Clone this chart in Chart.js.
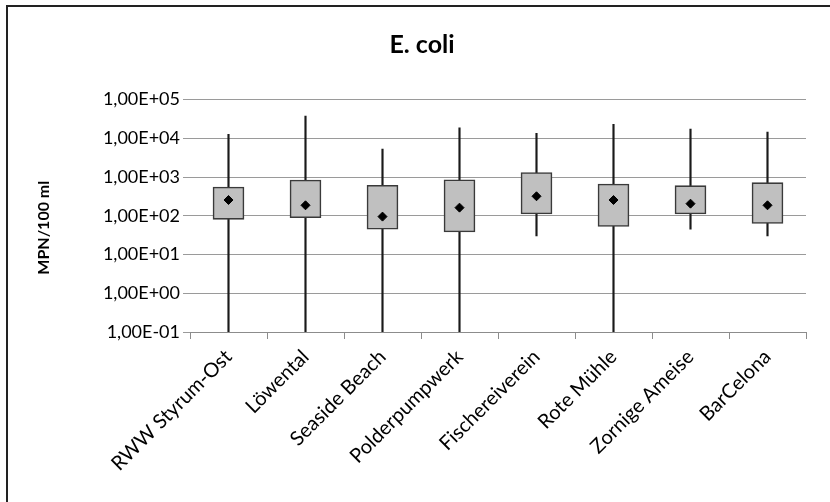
<!DOCTYPE html>
<html>
<head>
<meta charset="utf-8">
<script src="https://cdn.jsdelivr.net/npm/chart.js@4"></script>
<style>
  html, body { margin: 0; padding: 0; background: #fff; }
  #wrap { position: relative; width: 830px; height: 502px; overflow: hidden; }
  #frame { position: absolute; left: 6px; top: 5px; width: 830px; height: 510px;
           border-left: 2px solid #222; border-top: 2px solid #222; box-sizing: border-box; }
  canvas { position: absolute; left: 0; top: 0; }
</style>
</head>
<body>
<div id="wrap">
  <div id="frame"></div>
  <canvas id="c" width="830" height="502"></canvas>
</div>
<script>
const categories = ['RWW Styrum-Ost', 'Löwental', 'Seaside Beach', 'Polderpumpwerk', 'Fischereiverein', 'Rote Mühle', 'Zornige Ameise', 'BarCelona'];
const minValues  = [0.1, 0.1, 0.1, 0.1, 30, 0.1, 45, 30];
const q1Values   = [81, 89, 45, 38, 111, 53, 111, 63];
const q3Values   = [552, 837, 610, 850, 1300, 660, 597, 714];
const maxValues  = [12600, 37500, 5260, 18700, 13400, 22900, 17300, 14500];
const meanValues = [255, 186, 95, 162, 318, 255, 205, 186];
const yTickValues = [0.1, 1, 10, 100, 1000, 10000, 100000];
const chartTitle = 'E. coli';
const yAxisTitle = 'MPN/100 ml';

function fmtSci(v) {
  const e = Math.round(Math.log10(v));
  const m = v / Math.pow(10, e);
  const mant = m.toFixed(2).replace('.', ',');
  const sign = e < 0 ? '-' : '+';
  const ex = String(Math.abs(e)).padStart(2, '0');
  return mant + 'E' + sign + ex;
}

const FONT = 'Lato, "Open Sans", sans-serif';

// Draws the y-axis title, centred where the reference places it.
const yTitlePlugin = {
  id: 'yTitle',
  afterDraw(chart) {
    const ctx = chart.ctx;
    const area = chart.chartArea;
    ctx.save();
    ctx.translate(44, (area.top + area.bottom) / 2 + 12);
    ctx.rotate(-Math.PI / 2);
    ctx.font = 'bold 16px ' + FONT;
    ctx.fillStyle = '#000';
    ctx.textAlign = 'center';
    ctx.textBaseline = 'middle';
    ctx.fillText(yAxisTitle, 0, 0);
    ctx.restore();
  }
};

new Chart(document.getElementById('c'), {
  type: 'bar',
  data: {
    labels: categories,
    datasets: [
      {
        label: 'Whisker',
        data: categories.map((_, i) => [minValues[i], maxValues[i]]),
        backgroundColor: '#1a1a1a',
        borderWidth: 0,
        barThickness: 1.5,
        grouped: false,
        order: 3
      },
      {
        label: 'Box',
        data: categories.map((_, i) => [q1Values[i], q3Values[i]]),
        backgroundColor: '#c0c0c0',
        borderColor: '#3a3a3a',
        borderWidth: 1.6,
        borderSkipped: false,
        barThickness: 31,
        grouped: false,
        order: 2
      },
      {
        type: 'line',
        label: 'Mean',
        data: meanValues,
        showLine: false,
        pointStyle: 'rectRot',
        pointRadius: 4.5,
        backgroundColor: '#000',
        borderColor: '#000',
        borderWidth: 1,
        order: 1
      }
    ]
  },
  plugins: [yTitlePlugin],
  options: {
    responsive: false,
    animation: false,
    events: [],
    layout: { padding: { left: 38, right: 24, top: 0, bottom: 0 } },
    plugins: {
      legend: { display: false },
      tooltip: { enabled: false },
      title: {
        display: true,
        text: chartTitle,
        color: '#000',
        font: { family: FONT, size: 25, weight: 'bold', lineHeight: 1.2 },
        padding: { top: 30, bottom: 39.5 }
      }
    },
    scales: {
      x: {
        type: 'category',
        offset: true,
        grid: {
          offset: true,
          drawOnChartArea: false,
          drawTicks: true,
          tickLength: 7,
          color: '#8c8c8c',
          lineWidth: 1
        },
        border: { display: true, color: '#8c8c8c', width: 1 },
        ticks: {
          color: '#000',
          font: { family: FONT, size: 20 },
          minRotation: 45,
          maxRotation: 45,
          autoSkip: false,
          padding: 6
        },
        afterFit(scale) { scale.height = 170; }
      },
      y: {
        type: 'logarithmic',
        min: 0.1,
        max: 100000,
        afterBuildTicks(scale) { scale.ticks = yTickValues.map(v => ({ value: v })); },
        grid: {
          color: '#9a9a9a',
          lineWidth: 1,
          drawTicks: true,
          tickLength: 7
        },
        border: { display: false },
        ticks: {
          color: '#000',
          font: { family: FONT, size: 18 },
          padding: 3,
          callback: (v) => fmtSci(v)
        },
        title: { display: false },
        afterFit(scale) { scale.width = 152; }
      }
    }
  }
});
</script>
</body>
</html>
